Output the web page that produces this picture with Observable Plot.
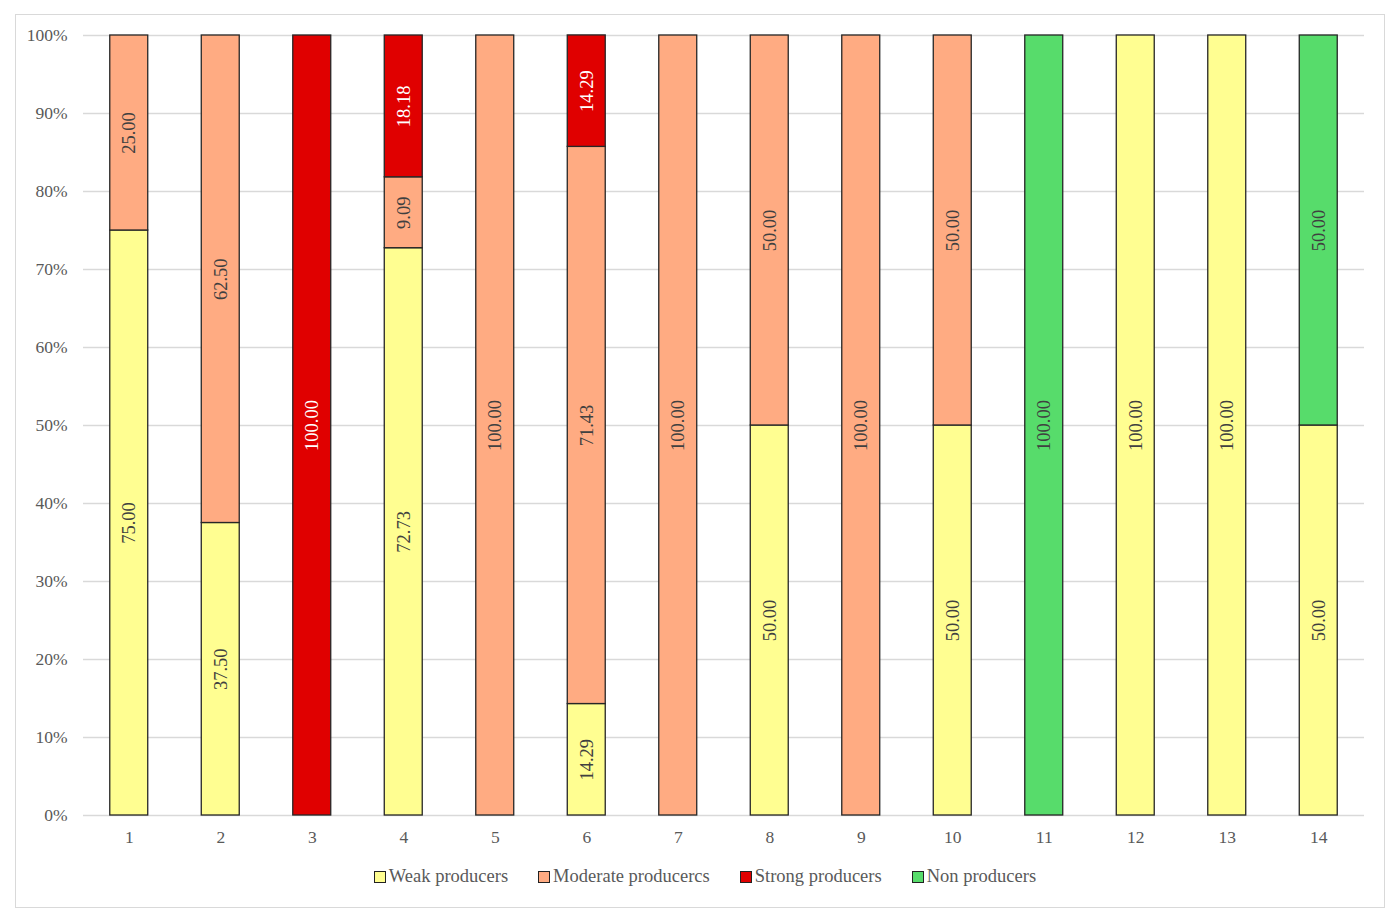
<!DOCTYPE html>
<html>
<head>
<meta charset="utf-8">
<script src="https://cdn.jsdelivr.net/npm/d3@7"></script>
<script src="https://cdn.jsdelivr.net/npm/@observablehq/plot@0.6"></script>
<style>
  html, body { margin: 0; padding: 0; background: #fff; }
  #frame { position: absolute; left: 15px; top: 14px; width: 1370px; height: 894px; box-sizing: border-box; border: 1px solid #d9d9d9; }
  #chart { position: absolute; left: 0; top: 0; }
  #legend { position: absolute; left: 0; top: 851px; width: 100%; display: flex; justify-content: center; gap: 30px; font-family: "Liberation Serif", serif; font-size: 18.5px; color: #595959; padding-left: 10px; box-sizing: border-box; }
  .item { display: flex; align-items: center; gap: 3px; }
  .sw { width: 10px; height: 10px; border: 1px solid #222; display: inline-block; }
</style>
</head>
<body>
<div id="frame"><div id="chart"></div><div id="legend"></div></div>
<script>
const categories = ["1","2","3","4","5","6","7","8","9","10","11","12","13","14"];
const seriesNames = ["Weak producers", "Moderate producercs", "Strong producers", "Non producers"];
const seriesColors = ["#FFFE91", "#FFAB82", "#E00000", "#57DC6B"];
const weak     = [75, 37.5, 0, 72.73, 0, 14.29, 0, 50, 0, 50, 0, 100, 100, 50];
const moderate = [25, 62.5, 0, 9.09, 100, 71.43, 100, 50, 100, 50, 0, 0, 0, 0];
const strong   = [0, 0, 100, 18.18, 0, 14.29, 0, 0, 0, 0, 0, 0, 0, 0];
const non      = [0, 0, 0, 0, 0, 0, 0, 0, 0, 0, 100, 0, 0, 50];
const yTicks = [0, 10, 20, 30, 40, 50, 60, 70, 80, 90, 100];

const seriesValues = [weak, moderate, strong, non];
const data = [];
seriesNames.forEach((s, si) => {
  categories.forEach((c, ci) => {
    data.push({cat: c, series: s, value: seriesValues[si][ci]});
  });
});

const font = '"Liberation Serif", serif';
const chart = Plot.plot({
  width: 1368,
  height: 845,
  marginTop: 20,
  marginBottom: 45,
  marginLeft: 67,
  marginRight: 20,
  style: {fontFamily: font, fontSize: "17.5px", color: "#595959", background: "transparent"},
  x: {domain: categories, paddingInner: 0.585, paddingOuter: 0.2925, round: false, label: null, tickSize: 0, tickPadding: 15},
  y: {domain: [0, 100], ticks: yTicks, tickFormat: d => d + "%", label: null, tickSize: 0, tickPadding: 16},
  color: {domain: seriesNames, range: seriesColors},
  marks: [
    Plot.gridY(yTicks, {stroke: "#d9d9d9", strokeOpacity: 1, strokeWidth: 1.3}),
    Plot.barY(data, {x: "cat", y: "value", fill: "series", order: seriesNames, stroke: "#262626", strokeWidth: 1.3, inset: 0}),
    Plot.text(data, Plot.stackY({
      x: "cat", y: "value", z: "series", order: seriesNames,
      filter: d => d.value > 0,
      text: d => d.value.toFixed(2),
      rotate: -90,
      fill: d => d.series === "Strong producers" ? "#ffffff" : "#404040",
      fontSize: 18.5
    }))
  ]
});
document.getElementById("chart").appendChild(chart);

const legend = document.getElementById("legend");
seriesNames.forEach((s, i) => {
  const it = document.createElement("div");
  it.className = "item";
  const sw = document.createElement("span");
  sw.className = "sw";
  sw.style.background = seriesColors[i];
  const t = document.createElement("span");
  t.textContent = s;
  it.appendChild(sw); it.appendChild(t);
  legend.appendChild(it);
});
</script>
</body>
</html>
